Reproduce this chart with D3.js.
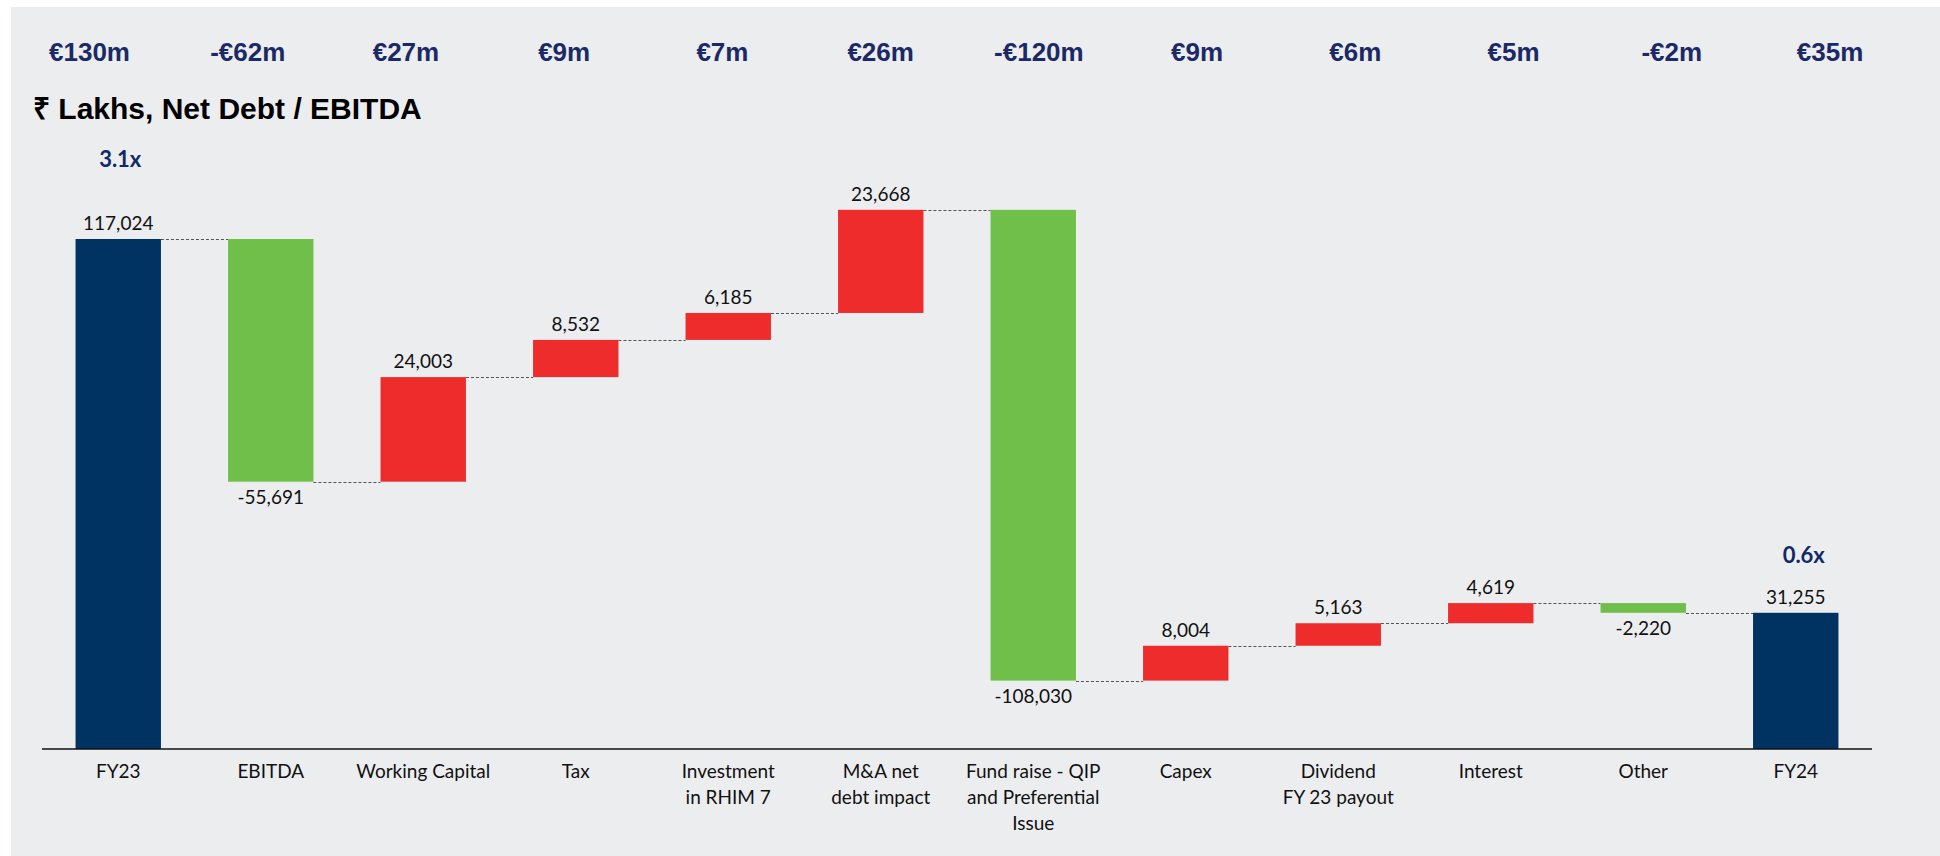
<!DOCTYPE html>
<html>
<head>
<meta charset="utf-8">
<script src="https://cdn.jsdelivr.net/npm/d3@7"></script>
<style>
  html, body { margin: 0; padding: 0; background: #ffffff; }
  svg { display: block; }
</style>
</head>
<body>
<svg id="chart" width="1940" height="856"></svg>
<script>
// ---- data ----
const categories = ["FY23", "EBITDA", "Working Capital", "Tax", "Investment in RHIM 7", "M&A net debt impact",
  "Fund raise - QIP and Preferential Issue", "Capex", "Dividend FY 23 payout", "Interest", "Other", "FY24"];
const categoryLines = [["FY23"], ["EBITDA"], ["Working Capital"], ["Tax"], ["Investment", "in RHIM 7"],
  ["M&A net", "debt impact"], ["Fund raise - QIP", "and Preferential", "Issue"], ["Capex"],
  ["Dividend", "FY 23 payout"], ["Interest"], ["Other"], ["FY24"]];
const values = [117024, -55691, 24003, 8532, 6185, 23668, -108030, 8004, 5163, 4619, -2220, 31255];
const isTotal = [true, false, false, false, false, false, false, false, false, false, false, true];
const euroLabels = ["€130m", "-€62m", "€27m", "€9m", "€7m", "€26m", "-€120m", "€9m", "€6m", "€5m", "-€2m", "€35m"];
const ratioCategories = ["FY23", "FY24"];
const ratioLabels = ["3.1x", "0.6x"];
const chartTitle = "₹ Lakhs, Net Debt / EBITDA";

// ---- build waterfall ----
let running = 0;
const bars = values.map((v, i) => {
  let y0, y1, kind;
  if (isTotal[i]) { y0 = 0; y1 = v; running = v; kind = "total"; }
  else { y0 = running; y1 = running + v; running = y1; kind = v < 0 ? "neg" : "pos"; }
  return { cat: categories[i], v, y0, y1, kind, level: running };
});

const svg = d3.select("#chart");
svg.append("rect").attr("x", 11).attr("y", 7).attr("width", 1929).attr("height", 849).attr("fill", "#ECEDEF");

const x = d3.scaleBand().domain(categories).range([42, 1872]).paddingInner(0.44).paddingOuter(0.22);
const y = d3.scaleLinear().domain([0, 117024]).range([749, 239]);
const xTop = d3.scalePoint().domain(categories).range([89.5, 1830]);

const colors = { total: "#003361", neg: "#70BF4B", pos: "#EE2C2C" };
const fmt = d3.formatLocale({ decimal: ".", thousands: ",", grouping: [3], currency: ["", ""], minus: "-" }).format(",");

// connectors
const g = svg.append("g");
bars.forEach((b, i) => {
  if (i === bars.length - 1) return;
  g.append("line")
    .attr("x1", x(b.cat) + x.bandwidth()).attr("x2", x(bars[i + 1].cat))
    .attr("y1", Math.round(y(b.level)) + 0.5).attr("y2", Math.round(y(b.level)) + 0.5)
    .attr("stroke", "#555").attr("stroke-width", 1).attr("stroke-dasharray", "3,2");
});

// bars
g.selectAll("rect.bar").data(bars).join("rect").attr("class", "bar")
  .attr("x", d => x(d.cat)).attr("width", x.bandwidth())
  .attr("y", d => y(Math.max(d.y0, d.y1)))
  .attr("height", d => Math.abs(y(d.y0) - y(d.y1)))
  .attr("fill", d => colors[d.kind]);

// value labels
g.selectAll("text.val").data(bars).join("text").attr("class", "val")
  .attr("x", d => x(d.cat) + x.bandwidth() / 2)
  .attr("y", d => d.kind === "neg" ? y(Math.min(d.y0, d.y1)) + 22 : y(Math.max(d.y0, d.y1)) - 9)
  .attr("text-anchor", "middle")
  .attr("font-family", "Lato, 'Open Sans', sans-serif").attr("font-size", 19).attr("fill", "#111")
  .text(d => fmt(d.v));

// axis
const axis = svg.append("g").attr("transform", "translate(0,749)")
  .call(d3.axisBottom(x).tickSize(0).tickFormat(""));
axis.select(".domain").attr("stroke", "#111").attr("stroke-width", 1.5).attr("d", "M42,0H1872");

const catG = svg.append("g");
categories.forEach((c, i) => {
  const t = catG.append("text").attr("x", x(c) + x.bandwidth() / 2).attr("y", 778)
    .attr("text-anchor", "middle")
    .attr("font-family", "Lato, 'Open Sans', sans-serif").attr("font-size", 19).attr("fill", "#111");
  categoryLines[i].forEach((line, j) => {
    t.append("tspan").attr("x", x(c) + x.bandwidth() / 2).attr("dy", j === 0 ? 0 : 26).text(line);
  });
});

// top euro labels
svg.append("g").selectAll("text").data(categories).join("text")
  .attr("x", d => xTop(d)).attr("y", 61).attr("text-anchor", "middle")
  .attr("font-family", "'Liberation Sans', Arial, sans-serif").attr("font-weight", "bold")
  .attr("font-size", 26).attr("fill", "#1B2A66")
  .text((d, i) => euroLabels[i]);

// title
svg.append("text").attr("x", 33).attr("y", 119)
  .attr("font-family", "'Liberation Sans', Arial, sans-serif").attr("font-weight", "bold")
  .attr("font-size", 30).attr("fill", "#000").text(chartTitle);

// ratio labels
const ratioY = { "FY23": 167, "FY24": 563 };
const ratioDx = { "FY23": 2, "FY24": 8 };
svg.append("g").selectAll("text").data(ratioCategories).join("text")
  .attr("x", d => x(d) + x.bandwidth() / 2 + ratioDx[d]).attr("y", d => ratioY[d])
  .attr("text-anchor", "middle")
  .attr("font-family", "Lato, 'Open Sans', sans-serif").attr("font-weight", "bold")
  .attr("font-size", 22).attr("fill", "#0F2A66")
  .text((d, i) => ratioLabels[i]);
</script>
</body>
</html>
